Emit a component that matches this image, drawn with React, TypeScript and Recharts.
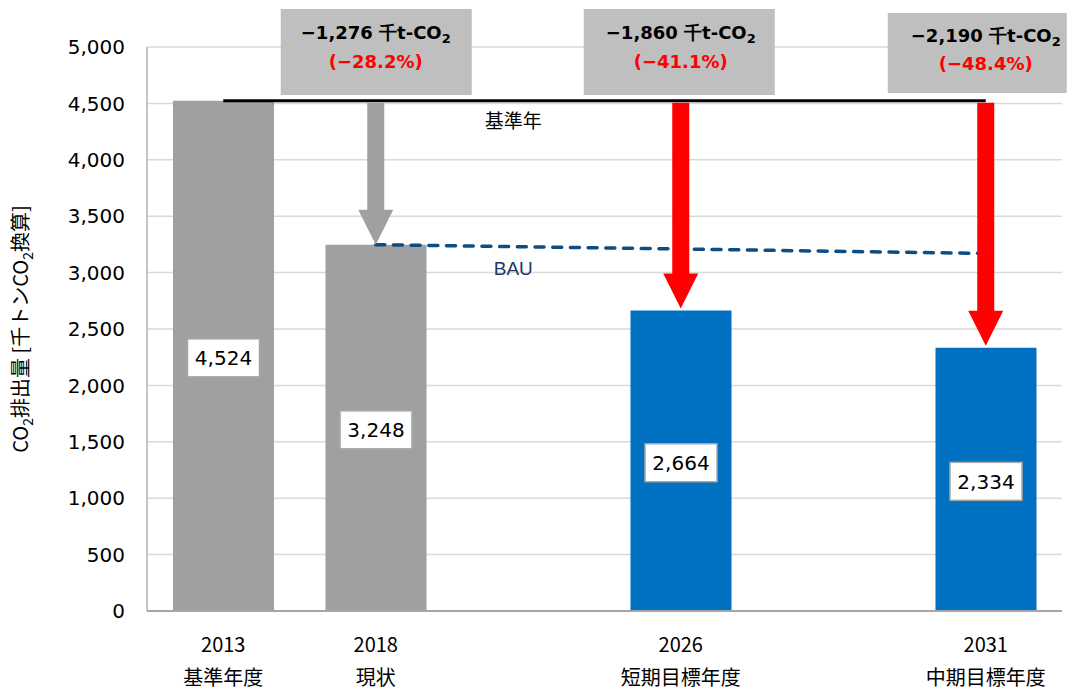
import React from 'react';

import {
  Bar,
  CartesianGrid,
  Cell,
  ComposedChart,
  LabelList,
  Line,
  ReferenceDot,
  ReferenceLine,
  XAxis,
  YAxis,
} from 'recharts';

// categories (two empty slots keep the spacing between 2018, 2026 and 2031)
const categories = ['2013', '2018', 'gap1', '2026', 'gap2', '2031'];
const yearLabels = ['2013', '2018', '', '2026', '', '2031'];
const stageLabels = ['基準年度', '現状', '', '短期目標年度', '', '中期目標年度'];

const emissions = [4524, 3248, null, 2664, null, 2334];
const bauValues = [null, 3248, null, null, null, 3170];
const baseYearValue = 4524;

const yTicks = [0, 500, 1000, 1500, 2000, 2500, 3000, 3500, 4000, 4500, 5000];

const reductionYears = ['2018', '2026', '2031'];
const reductionAmounts = ['−1,276', '−1,860', '−2,190'];
const reductionRates = ['−28.2%', '−41.1%', '−48.4%'];

const GRAY = '#a0a0a0';
const BLUE = '#0070c0';
const RED = '#ff0000';
const NUM_FONT = '"DejaVu Sans", Verdana, sans-serif';
const JP_FONT = '"Noto Sans CJK JP", "Noto Sans", sans-serif';

const barColor = (i: number) => (i < 2 ? GRAY : BLUE);
const arrowColor = (i: number) => (i === 0 ? GRAY : RED);

// box edges relative to the anchor (category centre, top of the plot)
const BOX_GEOMETRY = [
  { left: -95, right: 96, top: -38, bottom: 48, line1: -8, line2: 21 },
  { left: -97, right: 94, top: -38, bottom: 48, line1: -8, line2: 21 },
  { left: -98, right: 81, top: -34, bottom: 46, line1: -5, line2: 23 },
];

const data = categories.map((name, i) => ({
  name,
  value: emissions[i],
  bau: bauValues[i],
}));

const XTick = (props: any) => {
  const { x, y, payload } = props;
  const i = categories.indexOf(payload.value);
  return (
    <g>
      <text x={x} y={y + 41} textAnchor="middle" fontFamily={JP_FONT} fontSize={20} fill="#000">
        {yearLabels[i]}
      </text>
      <text x={x} y={y + 74} textAnchor="middle" fontFamily={JP_FONT} fontSize={20} fill="#000">
        {stageLabels[i]}
      </text>
    </g>
  );
};

const renderYLabel = () => (
  <text
    transform="translate(28, 329) rotate(-90)"
    textAnchor="middle"
    fontFamily={JP_FONT}
    fontSize={20}
    fill="#000"
  >
    CO
    <tspan fontSize={14} dy={5}>2</tspan>
    <tspan dy={-5}>排出量 [千トンCO</tspan>
    <tspan fontSize={14} dy={5}>2</tspan>
    <tspan dy={-5}>換算]</tspan>
  </text>
);

const renderValueBox = (props: any) => {
  const vb = props.viewBox && props.viewBox.width != null ? props.viewBox : props;
  const { value } = props;
  if (value == null) return null;
  const cx = vb.x + vb.width / 2;
  const cy = vb.y + vb.height / 2 + 2;
  return (
    <g>
      <rect x={cx - 36} y={cy - 19} width={72} height={38} fill="#fff" stroke="#a6a6a6" strokeWidth={1.5} />
      <text x={cx} y={cy} dy="0.36em" textAnchor="middle" fontFamily={NUM_FONT} fontSize={20} fill="#000">
        {Number(value).toLocaleString('en-US')}
      </text>
    </g>
  );
};

const makeArrow = (color: string, gap: number) => (props: any) => {
  const { x1, y1, y2 } = props;
  const x = x1;
  const top = Math.min(y1, y2) + 2;
  const tip = Math.max(y1, y2) - gap;
  const head = tip - 35;
  const points = [
    [x - 8.5, top],
    [x + 8.5, top],
    [x + 8.5, head],
    [x + 17.5, head],
    [x, tip],
    [x - 17.5, head],
    [x - 8.5, head],
  ]
    .map((p) => p.join(','))
    .join(' ');
  return <polygon points={points} fill={color} />;
};

const makeBox = (i: number) => (props: any) => {
  const { cx, cy } = props;
  const g = BOX_GEOMETRY[i];
  return (
    <g>
      <rect x={cx + g.left} y={cy + g.top} width={g.right - g.left} height={g.bottom - g.top} fill="#bfbfbf" />
      <text x={cx} y={cy + g.line1} textAnchor="middle" fontFamily={NUM_FONT} fontWeight="bold" fontSize={18} fill="#000">
        {reductionAmounts[i]} 千t-CO
        <tspan fontSize={13} dy={4}>2</tspan>
      </text>
      <text x={cx} y={cy + g.line2} textAnchor="middle" fontFamily={NUM_FONT} fontWeight="bold" fontSize={18} fill={RED}>
        ({reductionRates[i]})
      </text>
    </g>
  );
};

const textAt = (text: string, dx: number, dy: number, color: string, font: string) => (props: any) => (
  <text x={props.cx + dx} y={props.cy + dy} textAnchor="middle" fontFamily={font} fontSize={19} fill={color}>
    {text}
  </text>
);

const App = () => {
  return (
    <div style={{ position: 'absolute', left: 0, top: 0, background: '#fff' }}>
      <ComposedChart
        width={1067}
        height={690}
        data={data}
        margin={{ top: 47, right: 5, bottom: 19, left: 0 }}
        barCategoryGap="34%"
      >
        <CartesianGrid vertical={false} stroke="#d9d9d9" strokeWidth={1.5} />
        <XAxis
          dataKey="name"
          interval={0}
          height={60}
          tickLine={false}
          tickSize={0}
          tickMargin={0}
          tick={<XTick />}
          axisLine={{ stroke: '#a6a6a6', strokeWidth: 2 }}
        />
        <YAxis
          width={147}
          domain={[0, 5000]}
          ticks={yTicks}
          tickLine={false}
          tickSize={8}
          tickMargin={14}
          tick={{ fontFamily: NUM_FONT, fontSize: 20, fill: '#000' }}
          tickFormatter={(v: number) => v.toLocaleString('en-US')}
          axisLine={{ stroke: '#b3b3b3', strokeWidth: 1.5 }}
          label={renderYLabel}
        />
        <Bar dataKey="value" barSize={101} isAnimationActive={false}>
          {data.map((d, i) => (
            <Cell key={d.name} fill={barColor(i)} />
          ))}
          <LabelList dataKey="value" content={renderValueBox} />
        </Bar>
        <Line
          dataKey="bau"
          stroke="#0e4c84"
          strokeWidth={3.5}
          strokeDasharray="9 8.7"
          strokeLinecap="round"
          dot={false}
          activeDot={false}
          connectNulls
          isAnimationActive={false}
        />
        <ReferenceLine
          segment={[
            { x: '2013', y: baseYearValue },
            { x: '2031', y: baseYearValue },
          ]}
          stroke="#000"
          strokeWidth={3}
        />
        {reductionYears.map((year, i) => (
          <ReferenceLine
            key={`arrow-${year}`}
            segment={[
              { x: year, y: baseYearValue },
              { x: year, y: emissions[categories.indexOf(year)] as number },
            ]}
            shape={makeArrow(arrowColor(i), i === 0 ? 0 : 2)}
          />
        ))}
        {reductionYears.map((year, i) => (
          <ReferenceDot key={`box-${year}`} x={year} y={5000} r={0} ifOverflow="visible" shape={makeBox(i)} />
        ))}
        <ReferenceDot x="gap1" y={baseYearValue} r={0} shape={textAt('基準年', -15, 27, '#000', JP_FONT)} />
        <ReferenceDot
          x="gap1"
          y={3000}
          r={0}
          shape={textAt('BAU', -15, 2, '#203864', '"Liberation Sans", Arial, sans-serif')}
        />
      </ComposedChart>
    </div>
  );
};

export default App;
